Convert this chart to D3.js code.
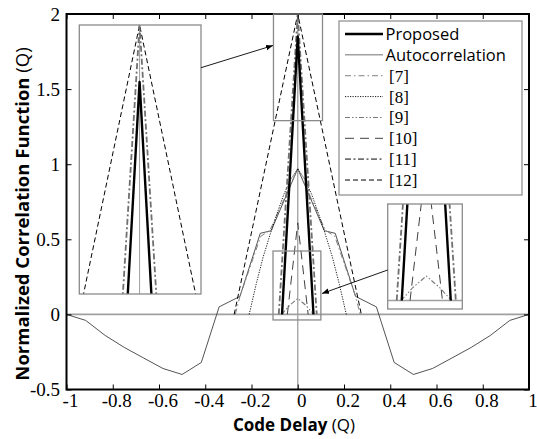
<!DOCTYPE html>
<html><head><meta charset="utf-8">
<script src="https://cdn.jsdelivr.net/npm/d3@7"></script>
<style>body{margin:0;background:#fff}
text.serif{font-family:"Liberation Serif","Times New Roman",Tinos,"DejaVu Serif","Noto Serif",serif}
text.sans{font-family:"Open Sans","Noto Sans",sans-serif}
</style>
</head><body><svg id="c" width="537" height="439"></svg>
<script>
// ---------- data ----------
const xTicks = [-1,-0.8,-0.6,-0.4,-0.2,0,0.2,0.4,0.6,0.8,1];
const xTickLabels = ["-1","-0.8","-0.6","-0.4","-0.2","0","0.2","0.4","0.6","0.8","1"];
const yTicks = [-0.5,0,0.5,1,1.5,2];
const yTickLabels = ["-0.5","0","0.5","1","1.5","2"];
const legendLabels = ["Proposed","Autocorrelation","[7]","[8]","[9]","[10]","[11]","[12]"];

const proposedX = [-0.068,0,0.068];
const proposedY = [0,1.85,0];

const autoX = [-1,-0.917,-0.833,-0.75,-0.667,-0.583,-0.5,-0.417,-0.34,-0.25,-0.162,-0.115,0,0.115,0.162,0.25,0.34,0.417,0.5,0.583,0.667,0.75,0.833,0.917,1];
const autoY = [0,-0.04,-0.14,-0.22,-0.29,-0.36,-0.40,-0.32,0.05,0.12,0.54,0.557,0.97,0.557,0.54,0.12,0.05,-0.32,-0.40,-0.36,-0.29,-0.22,-0.14,-0.04,0];

const ref7X = [-0.27,-0.25,-0.16,-0.12,0,0.12,0.16,0.25,0.27];
const ref7Y = [0,0.12,0.52,0.56,0.97,0.56,0.52,0.12,0];

const ref8X = [-0.21,-0.18,-0.15,-0.12,-0.09,-0.06,-0.03,0,0.03,0.06,0.09,0.12,0.15,0.18,0.21];
const ref8Y = [0,0.2,0.38,0.53,0.67,0.8,0.9,0.97,0.9,0.8,0.67,0.53,0.38,0.2,0];

const ref9X = [-0.07,-0.037,0,0.037,0.07];
const ref9Y = [0,0.057,0.107,0.057,0];

const ref10X = [-0.045,0,0.045];
const ref10Y = [0,0.61,0];

const ref11X = [-0.082,0,0.082];
const ref11Y = [0,2,0];

const ref12X = [-0.275,0,0.275];
const ref12Y = [0,2,0];

// ---------- layout ----------
const svg = d3.select("#c");
const L = 66.5, R = 529, T = 14, B = 389.5;
const x = d3.scaleLinear().domain([-1,1]).range([L,R]);
const y = d3.scaleLinear().domain([-0.5,2]).range([B,T]);

const styles = [
  {stroke:"#000", w:2.4, dash:null},            // Proposed
  {stroke:"#a0a0a0", w:1.5, dash:null},         // Autocorrelation
  {stroke:"#808080", w:1, dash:"6,3,1.5,3"},    // [7]
  {stroke:"#000", w:0.9, dash:"1.2,1.3"},       // [8]
  {stroke:"#7a7a7a", w:1.1, dash:"5,2,1.5,2,1.5,2"}, // [9]
  {stroke:"#404040", w:1, dash:"9,6"},          // [10]
  {stroke:"#707070", w:1.8, dash:"6,2.5,2,2.5"},// [11]
  {stroke:"#000", w:1, dash:"5,3"}              // [12]
];
const series = [
  {xs:proposedX, ys:proposedY, s:0},
  {xs:autoX, ys:autoY, s:1, plotStroke:"#404040", plotW:0.9},
  {xs:ref7X, ys:ref7Y, s:2},
  {xs:ref8X, ys:ref8Y, s:3},
  {xs:ref9X, ys:ref9Y, s:4},
  {xs:ref10X, ys:ref10Y, s:5},
  {xs:ref11X, ys:ref11Y, s:6},
  {xs:ref12X, ys:ref12Y, s:7}
];
const drawOrder = [1,2,3,4,5,7,6,0];

const defs = svg.append("defs");
defs.append("clipPath").attr("id","clipMain").append("rect")
  .attr("x",L).attr("y",T).attr("width",R-L).attr("height",B-T);
defs.append("marker").attr("id","arr").attr("viewBox","0 0 10 10")
  .attr("refX",10).attr("refY",5).attr("markerWidth",7).attr("markerHeight",7)
  .attr("orient","auto-start-reverse").attr("markerUnits","userSpaceOnUse")
  .append("path").attr("d","M0,1 L10,5 L0,9 z").attr("fill","#000");

function drawCurves(g, xs, ys) {
  drawOrder.forEach(i => {
    const sr = series[i], st = styles[sr.s];
    const pts = sr.xs.map((v,k)=>[v, sr.ys[k]]);
    g.append("path").datum(pts)
      .attr("d", d3.line().x(d=>xs(d[0])).y(d=>ys(d[1])))
      .attr("fill","none")
      .attr("stroke", sr.plotStroke || st.stroke)
      .attr("stroke-width", sr.plotW || st.w)
      .attr("stroke-dasharray", st.dash)
      .attr("stroke-linejoin","round");
  });
}

const gm = svg.append("g").attr("clip-path","url(#clipMain)");
gm.append("line").attr("x1",L).attr("x2",R).attr("y1",y(0)).attr("y2",y(0))
  .attr("stroke","#a0a0a0").attr("stroke-width",1.6);
gm.append("line").attr("x1",x(0)).attr("x2",x(0)).attr("y1",T).attr("y2",B)
  .attr("stroke","#a0a0a0").attr("stroke-width",1.3);
drawCurves(gm, x, y);

const frame = svg.append("g");
const axB = d3.axisBottom(x).tickValues(xTicks).tickSizeInner(-5).tickSizeOuter(0).tickFormat("");
const axT = d3.axisTop(x).tickValues(xTicks).tickSizeInner(-5).tickSizeOuter(0).tickFormat("");
const axL = d3.axisLeft(y).tickValues(yTicks).tickSizeInner(-5).tickSizeOuter(0).tickFormat("");
const axR = d3.axisRight(y).tickValues(yTicks).tickSizeInner(-5).tickSizeOuter(0).tickFormat("");
[[axB,`translate(0,${B})`],[axT,`translate(0,${T})`],[axL,`translate(${L},0)`],[axR,`translate(${R},0)`]].forEach(([a,t])=>{
  const g = frame.append("g").attr("transform",t).call(a);
  g.select(".domain").remove();
  g.selectAll("line").attr("stroke","#000").attr("stroke-width",1);
});
frame.append("rect").attr("x",L).attr("y",T).attr("width",R-L).attr("height",B-T)
  .attr("fill","none").attr("stroke","#000").attr("stroke-width",2);

// tick labels
svg.append("g").selectAll("text").data(xTicks).join("text")
  .attr("class","serif")
  .attr("x",d=>x(d)+4).attr("y",407).attr("text-anchor","middle")
  .attr("font-size",19).attr("fill","#000")
  .text((d,i)=>xTickLabels[i]);
svg.append("g").selectAll("text").data(yTicks).join("text")
  .attr("class","serif")
  .attr("x",60).attr("y",d=>y(d)+6.5).attr("text-anchor","end")
  .attr("font-size",19).attr("fill","#000")
  .text((d,i)=>yTickLabels[i]);

// axis titles
const xt = svg.append("text").attr("class","sans").attr("x",294).attr("y",431).attr("text-anchor","middle")
  .attr("font-size",17).attr("fill","#000");
xt.append("tspan").attr("font-weight","bold").text("Code Delay ");
xt.append("tspan").text("(Q)");
const yt = svg.append("text").attr("class","sans").attr("transform","translate(29,214) rotate(-90)").attr("text-anchor","middle")
  .attr("font-size",18.5).attr("fill","#000");
yt.append("tspan").attr("font-weight","bold").text("Normalized Correlation Function ");
yt.append("tspan").text("(Q)");

// ---------- zoom boxes & insets ----------
const gray = "#8a8a8a";
function inset(src, dst, id, refV) {
  const xs = d3.scaleLinear().domain([src.x0,src.x1]).range([dst.x, dst.x+dst.w]);
  const ys = d3.scaleLinear().domain([src.y0,src.y1]).range([dst.y+dst.h, dst.y]);
  defs.append("clipPath").attr("id",id).append("rect")
    .attr("x",dst.x).attr("y",dst.y).attr("width",dst.w).attr("height",dst.h);
  svg.append("rect").attr("x",dst.x).attr("y",dst.y).attr("width",dst.w).attr("height",dst.h)
    .attr("fill","#fff");
  const g = svg.append("g").attr("clip-path",`url(#${id})`);
  if (refV) {
    g.append("line").attr("x1",xs(0)).attr("x2",xs(0)).attr("y1",dst.y).attr("y2",dst.y+dst.h)
      .attr("stroke","#a0a0a0").attr("stroke-width",1);
  }
  g.append("line").attr("x1",dst.x).attr("x2",dst.x+dst.w).attr("y1",ys(0)).attr("y2",ys(0))
    .attr("stroke","#a0a0a0").attr("stroke-width",1.6);
  drawCurves(g, xs, ys);
  svg.append("rect").attr("x",dst.x).attr("y",dst.y).attr("width",dst.w).attr("height",dst.h)
    .attr("fill","none").attr("stroke",gray).attr("stroke-width",1.3);
}
const up = {x0:-0.105, x1:0.107, y0:1.29, y1:2};
const low = {x0:-0.107, x1:0.1, y0:-0.037, y1:0.422};
svg.append("rect").attr("x",x(up.x0)).attr("y",y(up.y1)).attr("width",x(up.x1)-x(up.x0)).attr("height",y(up.y0)-y(up.y1))
  .attr("fill","none").attr("stroke",gray).attr("stroke-width",1.3);
svg.append("rect").attr("x",x(low.x0)).attr("y",y(low.y1)).attr("width",x(low.x1)-x(low.x0)).attr("height",y(low.y0)-y(low.y1))
  .attr("fill","none").attr("stroke",gray).attr("stroke-width",1.3);
inset(up, {x:79.3, y:25, w:121.7, h:269}, "clipUp", true);
inset(low, {x:387.7, y:204, w:74.6, h:105}, "clipLow", false);
svg.append("line").attr("x1",201).attr("y1",67.7).attr("x2",273).attr("y2",45.5)
  .attr("stroke","#000").attr("stroke-width",0.9).attr("marker-end","url(#arr)");
svg.append("line").attr("x1",387.7).attr("y1",270).attr("x2",322).attr("y2",293.5)
  .attr("stroke","#000").attr("stroke-width",0.9).attr("marker-end","url(#arr)");

// ---------- legend ----------
const lg = svg.append("g");
lg.append("rect").attr("x",339).attr("y",21).attr("width",183).attr("height",174)
  .attr("fill","#fff").attr("stroke",gray).attr("stroke-width",1.2);
legendLabels.forEach((lab,i)=>{
  const yy = 34 + i*20.86, st = styles[i];
  lg.append("line").attr("x1",345).attr("x2",383).attr("y1",yy).attr("y2",yy)
    .attr("stroke",st.stroke).attr("stroke-width",st.w).attr("stroke-dasharray",st.dash);
  const isSans = i<2;
  lg.append("text").attr("class", isSans?"sans":"serif")
    .attr("x", isSans?385.5:389).attr("y", yy+6)
    .attr("font-size", isSans?16.5:17)
    .attr("fill","#000").text(lab);
});
</script>
</body></html>
